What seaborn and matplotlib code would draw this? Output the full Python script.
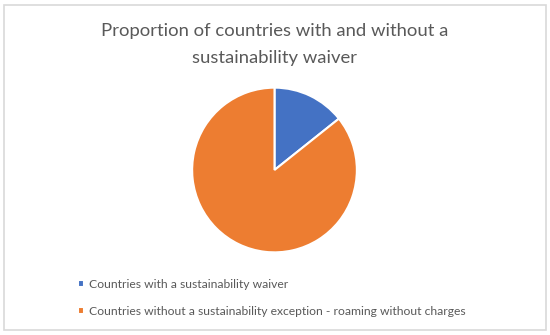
import matplotlib
matplotlib.use("Agg")
import matplotlib.pyplot as plt
import seaborn as sns
from matplotlib.patches import Rectangle

categories = ["Countries with a sustainability waiver",
              "Countries without a sustainability exception - roaming without charges"]
values = [4, 24]
colors = ["#4472C4", "#ED7D31"]
title_lines = ["Proportion of countries with and without a", "sustainability waiver"]

sns.set_theme(style="white")
plt.rcParams['font.family'] = ['Lato', 'DejaVu Sans']

W, H = 550, 335
fig = plt.figure(figsize=(W/100, H/100), dpi=100)
fig.patch.set_facecolor("white")
fig.patches.append(Rectangle((4/W, 5/H), 542/W, 325/H, transform=fig.transFigure,
                             fill=False, edgecolor="#d9d9d9", linewidth=1.2))

cx, cy, r = 274.5, 170, 84
ax = fig.add_axes([(cx - r)/W, (H - cy - r)/H, 2*r/W, 2*r/H])
wedges, _ = ax.pie(values, colors=colors, startangle=90, counterclock=False,
                   wedgeprops=dict(edgecolor="white", linewidth=1.5))
ax.set_xlim(-1.02, 1.02)
ax.set_ylim(-1.02, 1.02)
ax.set_aspect("equal")
ax.axis("off")

fig.text(0.5, 1 - 31/H, title_lines[0], ha="center", va="center", fontsize=13.3, color="#595959")
fig.text(0.5, 1 - 58/H, title_lines[1], ha="center", va="center", fontsize=13.3, color="#595959")

leg = fig.legend(wedges, categories, loc="upper left", bbox_to_anchor=(78/W, 1 - 279/H),
                 frameon=False, fontsize=8.7, handlelength=0.5, handleheight=0.5,
                 handletextpad=0.45, labelspacing=1.3, borderaxespad=0, borderpad=0)
for t in leg.get_texts():
    t.set_color("#595959")

fig.savefig("out.png", dpi=100)
